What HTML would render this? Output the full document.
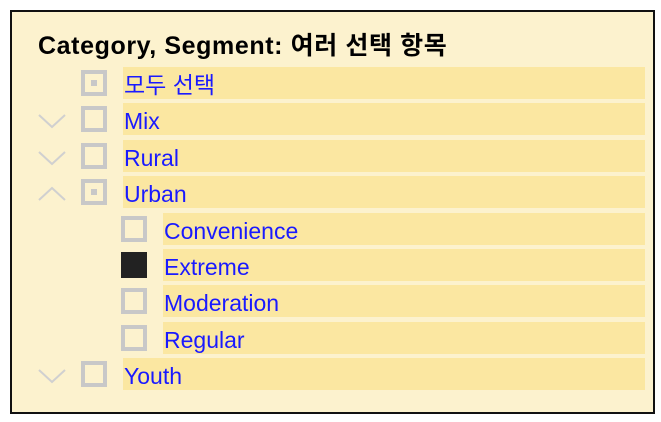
<!DOCTYPE html>
<html><head><meta charset="utf-8"><style>
body{margin:0;width:661px;height:422px;background:#fff;overflow:hidden;font-family:"Liberation Sans","Noto Sans CJK KR",sans-serif}
.frame{position:absolute;left:10px;top:10px;width:641px;height:400px;border:2px solid #111;background:#fcf2ce}
.title{position:absolute;left:26px;top:14px;font-size:25px;font-weight:bold;color:#000;white-space:nowrap;letter-spacing:0.6px}
.row{position:absolute;height:32px}
.band{position:absolute;top:0;height:32px;background:#fbe7a1;right:0}
.lbl{position:absolute;left:1px;top:2px;line-height:32px;font-size:23px;color:#1a1aff;white-space:nowrap}
.cb{position:absolute;top:3px;width:18px;height:18px;border:4px solid #c8c8c8;box-sizing:content-box}
.cb.part::after{content:"";position:absolute;left:6px;top:6px;width:6px;height:6px;background:#c8c8c8}
.cb.on{background:#222;border-color:#222}
.chev{position:absolute;left:26px;top:7px}
</style></head><body>
<div class="frame">
<div class="title">Category, Segment: 여러 선택 항목</div>

<div class="row" style="left:0;top:55px;width:633px">
<div class="cb part" style="left:69px"></div>
<div class="band" style="left:111px"><div class="lbl">모두 선택</div></div></div>

<div class="row" style="left:0;top:91px;width:633px">
<svg class="chev" width="30" height="20"><polyline points="1,5 14,17 27,5" fill="none" stroke="#d0d0d0" stroke-width="2"/></svg>
<div class="cb" style="left:69px"></div>
<div class="band" style="left:111px"><div class="lbl">Mix</div></div></div>

<div class="row" style="left:0;top:128px;width:633px">
<svg class="chev" width="30" height="20"><polyline points="1,5 14,17 27,5" fill="none" stroke="#d0d0d0" stroke-width="2"/></svg>
<div class="cb" style="left:69px"></div>
<div class="band" style="left:111px"><div class="lbl">Rural</div></div></div>

<div class="row" style="left:0;top:164px;width:633px">
<svg class="chev" width="30" height="20"><polyline points="1,17 14,5 27,17" fill="none" stroke="#d0d0d0" stroke-width="2"/></svg>
<div class="cb part" style="left:69px"></div>
<div class="band" style="left:111px"><div class="lbl">Urban</div></div></div>

<div class="row" style="left:0;top:201px;width:633px">
<div class="cb" style="left:109px"></div>
<div class="band" style="left:151px"><div class="lbl">Convenience</div></div></div>

<div class="row" style="left:0;top:237px;width:633px">
<div class="cb on" style="left:109px"></div>
<div class="band" style="left:151px"><div class="lbl">Extreme</div></div></div>

<div class="row" style="left:0;top:273px;width:633px">
<div class="cb" style="left:109px"></div>
<div class="band" style="left:151px"><div class="lbl">Moderation</div></div></div>

<div class="row" style="left:0;top:310px;width:633px">
<div class="cb" style="left:109px"></div>
<div class="band" style="left:151px"><div class="lbl">Regular</div></div></div>

<div class="row" style="left:0;top:346px;width:633px">
<svg class="chev" width="30" height="20"><polyline points="1,5 14,17 27,5" fill="none" stroke="#d0d0d0" stroke-width="2"/></svg>
<div class="cb" style="left:69px"></div>
<div class="band" style="left:111px"><div class="lbl">Youth</div></div></div>
</div>
</body></html>
